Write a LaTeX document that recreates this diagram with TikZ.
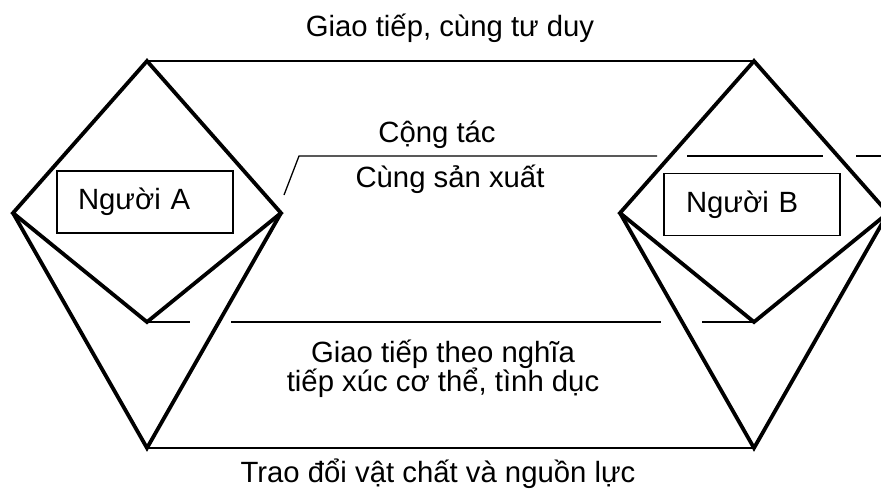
\documentclass[tikz,border=0pt]{standalone}
\usepackage{fontspec}
\setmainfont{Liberation Sans}
\begin{document}
\begin{tikzpicture}[x=1pt,y=-1pt,
  lbl/.style={font=\fontsize{29.3}{34}\selectfont, inner sep=0pt, anchor=base},
  thick edge/.style={line width=3.8pt, line join=miter, line cap=butt},
  thin edge/.style={line width=1.3pt},
  personbox/.style={draw, line width=1.5pt, fill=white, font=\fontsize{29.3}{34}\selectfont,
    minimum height=62pt, inner xsep=21pt, text width=134pt, align=left}]
\clip (0,0) rectangle (881,496);
\fill[white] (0,0) rectangle (881,496);
% left figure
\coordinate (AL) at (13,213);
\coordinate (AT) at (147,61);
\coordinate (AR) at (281,213);
\coordinate (AV) at (147,322);
\coordinate (AB) at (147,448);
% right figure
\coordinate (BL) at (620,213);
\coordinate (BT) at (754,61);
\coordinate (BR) at (888,213);
\coordinate (BV) at (754,322);
\coordinate (BB) at (754,448);
% connector points
\coordinate (c1) at (284,195);
\coordinate (c2) at (299,156);
\coordinate (c3) at (657,156);
\coordinate (c4) at (687,156);
\coordinate (c5) at (823,156);
\coordinate (c6) at (856,156);
\coordinate (c7) at (890,156);
\coordinate (d1) at (190,322);
\coordinate (d2) at (231,322);
\coordinate (d3) at (661,322);
\coordinate (d4) at (702,322);
% thin connectors
\draw[thin edge] (AT) -- (BT);
\draw[thin edge] (AB) -- (BB);
\draw[thin edge] (c1) -- (c2) -- (c3);
\draw[thin edge] (c4) -- (c5);
\draw[thin edge] (c6) -- (c7);
\draw[thin edge] (AV) -- (d1);
\draw[thin edge] (d2) -- (d3);
\draw[thin edge] (d4) -- (BV);
% thick shapes
\draw[thick edge] (AV) -- (AL) -- (AT) -- (AR) -- cycle;
\draw[thick edge] (AL) -- (AB) -- (AR);
\draw[thick edge] (BV) -- (BL) -- (BT) -- (BR) -- cycle;
\draw[thick edge] (BL) -- (BB) -- (BR);
% boxes
\node[personbox] (pA) at (145,202) {Người A};
\node[personbox, inner xsep=22pt, text width=132pt] (pB) at (752,204.5) {Người B};
% labels
\node[lbl] (t1) at (450,36) {Giao tiếp, cùng tư duy};
\node[lbl] (t2) at (437,142) {Cộng tác};
\node[lbl] (t3) at (450,187) {Cùng sản xuất};
\node[lbl] (t4) at (443,362) {Giao tiếp theo nghĩa};
\node[lbl] (t5) at (443,391) {tiếp xúc cơ thể, tình dục};
\node[lbl] (t6) at (438,482) {Trao đổi vật chất và nguồn lực};
\end{tikzpicture}
\end{document}
